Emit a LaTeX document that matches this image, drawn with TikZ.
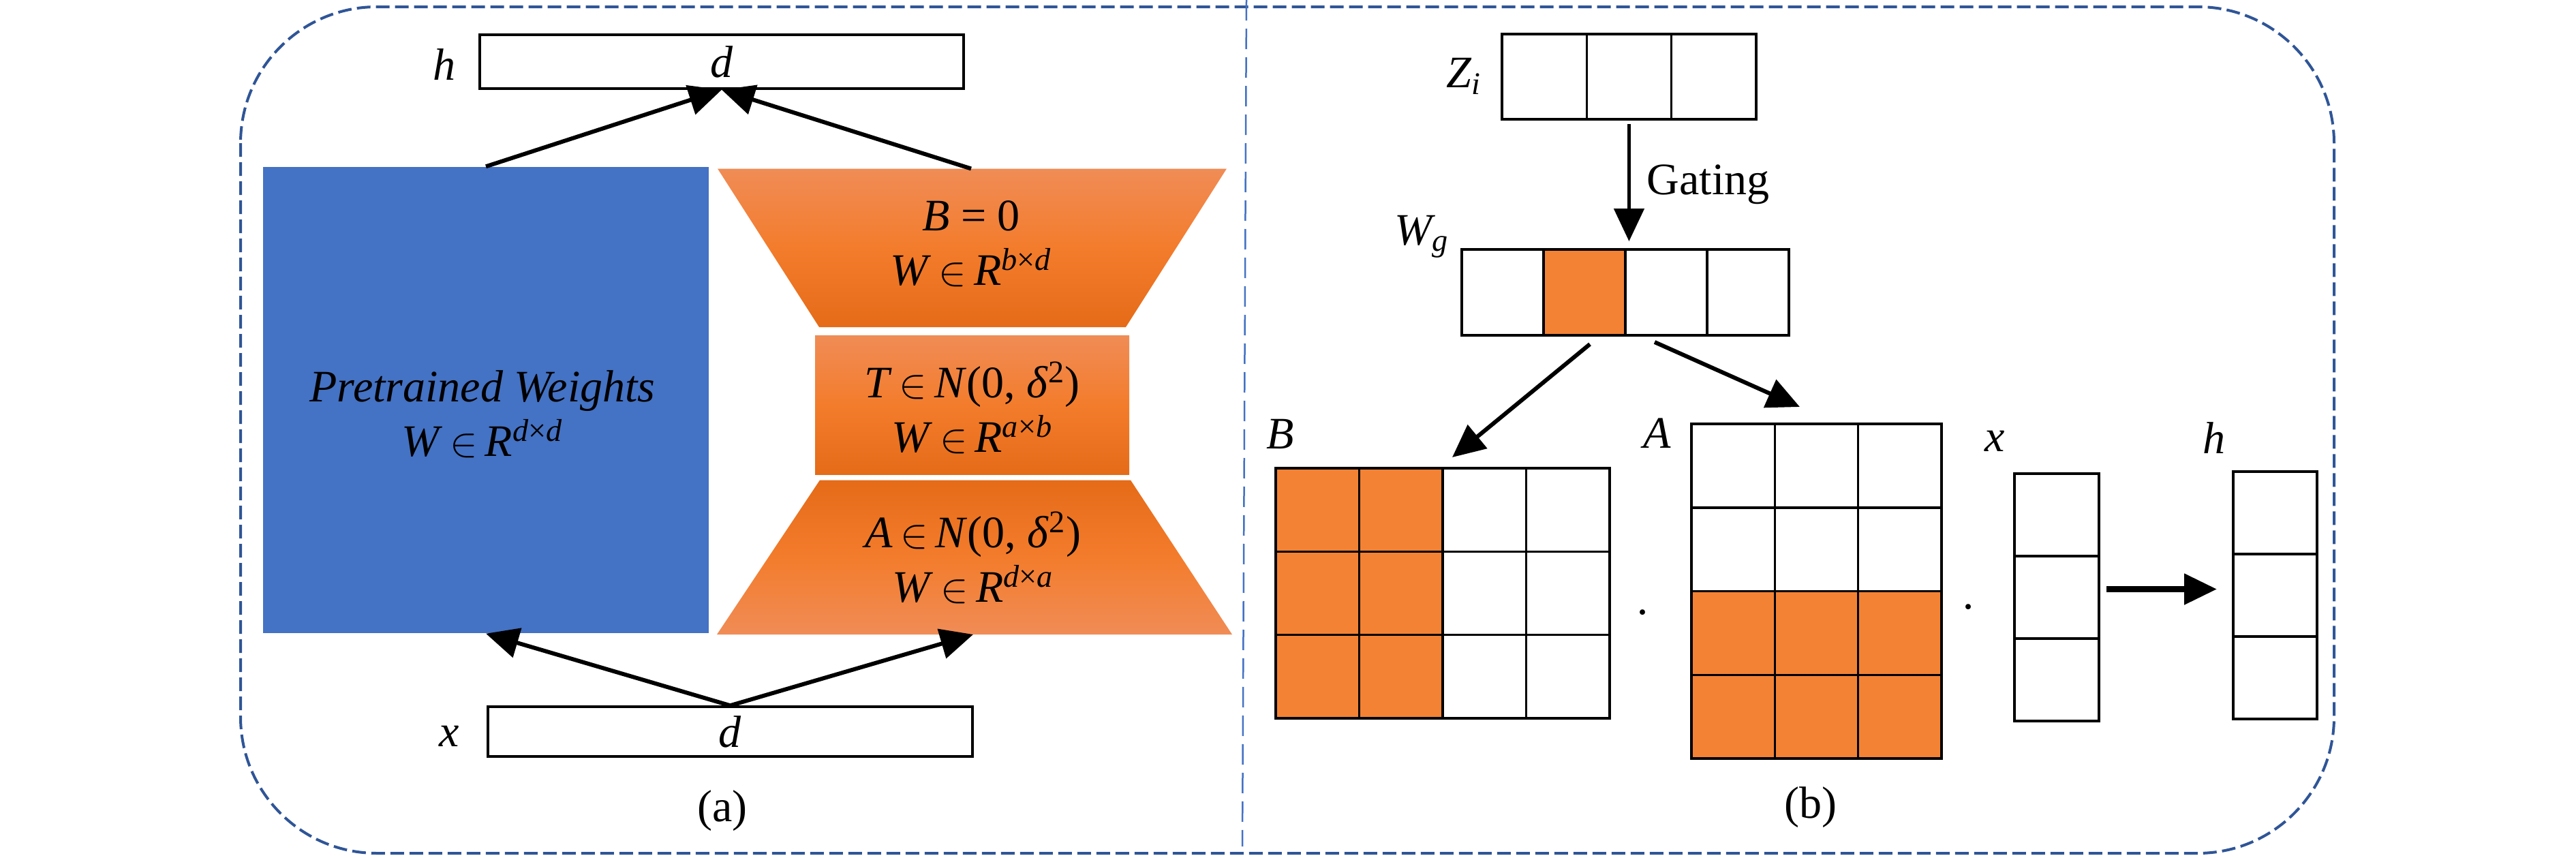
\documentclass[tikz,border=0pt]{standalone}
\usepackage{fontspec}
\setmainfont{Liberation Serif}
\usetikzlibrary{arrows.meta}
\definecolor{lorablue}{RGB}{68,114,196}
\definecolor{frameblue}{RGB}{47,85,151}
\definecolor{cellorange}{RGB}{244,130,52}
\definecolor{orangelight}{RGB}{240,140,86}
\definecolor{orangemid}{RGB}{243,124,44}
\definecolor{orangedark}{RGB}{229,107,24}
\tikzset{every node/.style={font=\fontsize{18.8}{22.8}\selectfont},
 lbl/.style={font=\fontsize{18.8}{22.8}\selectfont\itshape},
 vecbox/.style={draw,line width=0.035cm,inner sep=0},
 cell/.style={draw,line width=0.035cm,inner sep=0,outer sep=0},
 flow/.style={line width=0.06cm,-{Triangle[length=0.48cm,width=0.44cm]}},
 frame/.style={frameblue,line width=0.04cm,dash pattern=on 0.2cm off 0.08cm},
 divider/.style={lorablue,line width=0.025cm,dash pattern=on 0.3cm off 0.12cm},
 }
\newcommand{\inR}{\,$\in$\,}

\begin{document}
\begin{tikzpicture}
        \useasboundingbox (0,0) rectangle (37.8,-12.58);
        \draw[frame, rounded corners=2cm] (3.53,-0.10) rectangle (34.25,-12.52);
        \draw[divider] (18.29,0) -- (18.23,-12.42);

        \node[vecbox, minimum width=7.1cm, minimum height=0.79cm] (hbox) at (10.59,-0.905) {\itshape d};
        \node[lbl] (hlab) at (6.52,-0.95) {h};
        \node[vecbox, minimum width=7.11cm, minimum height=0.73cm] (xbox) at (10.715,-10.735) {\itshape d};
        \node[lbl] (xlab) at (6.59,-10.80) {x};

        \node[fill=lorablue, minimum width=6.54cm, minimum height=6.84cm, inner sep=0] (pre) at (7.13,-5.87) {};
        \node[align=center] (pretext) at (7.08,-6.08) {\textit{Pretrained Weights}\\ \textit{W}\inR\textit{R}\textsuperscript{\textit{d}×\textit{d}}};

        \shade[top color=orangelight, bottom color=orangedark, middle color=orangemid] (10.53,-2.475) -- (18.00,-2.475) -- (16.52,-4.80) -- (12.02,-4.80) -- cycle;
        \shade[top color=orangelight, bottom color=orangedark, middle color=orangemid] (11.96,-4.92) rectangle (16.57,-6.96);
        \shade[top color=orangedark, bottom color=orangelight, middle color=orangemid] (12.03,-7.045) -- (16.59,-7.045) -- (18.08,-9.31) -- (10.52,-9.31) -- cycle;
        \coordinate (btop) at (14.25,-2.475);
        \coordinate (abot) at (14.28,-9.31);
        \node[align=center] (btext) at (14.25,-3.58) {\textit{B} = 0\\ \textit{W}\inR\textit{R}\textsuperscript{\textit{b}×\textit{d}}};
        \node[align=center] (ttext) at (14.265,-5.98) {\textit{T}\inR\textit{N}(0, \textit{δ}\textsuperscript{2})\\ \textit{W}\inR\textit{R}\textsuperscript{\textit{a}×\textit{b}}};
        \node[align=center] (atext) at (14.28,-8.18) {\textit{A}\inR\textit{N}(0, \textit{δ}\textsuperscript{2})\\ \textit{W}\inR\textit{R}\textsuperscript{\textit{d}×\textit{a}}};

        \draw[flow] (pre.north) -- (hbox.south);
        \draw[flow] (btop) -- (hbox.south);
        \draw[flow] (xbox.north) -- (pre.south);
        \draw[flow] (xbox.north) -- (abot);
        \node (capa) at (10.60,-11.90) {(a)};

        \foreach \c in {1,2,3}
            \node[cell, minimum width=1.243cm, minimum height=1.25cm] (zi-\c) at (22.04+1.243*\c-0.6215,-1.125) {};
        \node[lbl] (zlab) at (21.48,-1.12) {Z\textsubscript{i}};
        \foreach \c/\f in {1/white,2/cellorange,3/white,4/white}
            \node[cell, fill=\f, minimum width=1.2cm, minimum height=1.26cm] (wg-\c) at (21.45+1.2*\c-0.6,-4.29) {};
        \node[lbl] (wglab) at (20.86,-3.47) {W\textsubscript{g}};
        \draw[flow, line width=0.05cm, shorten <=0.07cm, shorten >=0.12cm] (zi-2.south) -- node[right, xshift=0.12cm] {Gating} (zi-2.south |- wg-3.north);

        \foreach \r in {1,2,3}
            \foreach \c/\f in {1/cellorange,2/cellorange,3/white,4/white}
                \node[cell, fill=\f, minimum width=1.225cm, minimum height=1.223cm] (b-\r-\c) at (18.72+1.225*\c-0.6125,-6.87-1.223*\r+0.6115) {};
        \node[lbl] (blab) at (18.79,-6.37) {B};
        \foreach \r/\f in {1/white,2/white,3/cellorange,4/cellorange}
            \foreach \c in {1,2,3}
                \node[cell, fill=\f, minimum width=1.223cm, minimum height=1.2275cm] (a-\r-\c) at (24.82+1.223*\c-0.6115,-6.22-1.2275*\r+0.61375) {};
        \node[lbl] (alab) at (24.32,-6.36) {A};
        \foreach \r in {1,2,3}
            \node[cell, minimum width=1.24cm, minimum height=1.21cm] (xv-\r) at (30.18,-6.95-1.21*\r+0.605) {};
        \node[lbl] (xvlab) at (29.27,-6.47) {x};
        \foreach \r in {1,2,3}
            \node[cell, minimum width=1.23cm, minimum height=1.21cm] (hv-\r) at (33.385,-6.92-1.21*\r+0.605) {};
        \node[lbl] (hvlab) at (32.49,-6.43) {h};
        \node (dot1) at (24.10,-9.08) {·};
        \node (dot2) at (28.88,-9.00) {·};

        \draw[flow] ([xshift=0.08cm,yshift=-0.13cm]wg-2.south) -- ([xshift=0.14cm,yshift=0.16cm]b-1-2.north east);
        \draw[flow] ([xshift=0.43cm,yshift=-0.10cm]wg-3.south west) -- ([xshift=-0.245cm,yshift=0.25cm]a-1-2.north);
        \draw[flow, line width=0.085cm] ([xshift=0.11cm,yshift=0.12cm]xv-2.east) -- ([xshift=-0.24cm,yshift=0.09cm]hv-2.west);
        \node (capb) at (26.57,-11.85) {(b)};
    \end{tikzpicture}
\end{document}
